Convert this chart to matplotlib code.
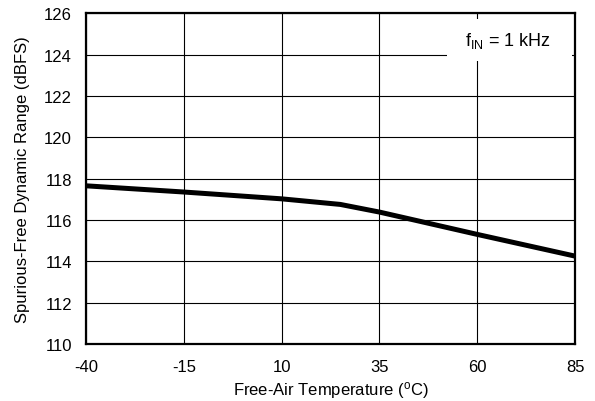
import matplotlib.pyplot as plt
from matplotlib.patches import Rectangle

plt.rcParams['font.family'] = ['Liberation Sans', 'DejaVu Sans']
plt.rcParams['mathtext.fontset'] = 'custom'
plt.rcParams['mathtext.rm'] = 'Liberation Sans'
plt.rcParams['mathtext.it'] = 'Liberation Sans'
plt.rcParams['axes.unicode_minus'] = False

# Data
temperature = [-40, -15, 10, 25, 35, 60, 85]
sfdr = [117.65, 117.35, 117.02, 116.75, 116.38, 115.3, 114.25]

x_ticks = [-40, -15, 10, 35, 60, 85]
y_ticks = [110, 112, 114, 116, 118, 120, 122, 124, 126]

fig = plt.figure(figsize=(5.95, 4.02), dpi=100)
ax = fig.add_axes([0.1445, 0.1418, 0.822, 0.823])

ax.plot(temperature, sfdr, color='black', linewidth=3.6, solid_capstyle='butt', zorder=3)

ax.set_xlim(-40, 85)
ax.set_ylim(110, 126)
ax.set_xticks(x_ticks)
ax.set_yticks(y_ticks)
ax.grid(True, color='black', linewidth=0.8)
ax.tick_params(length=0, labelsize=12)
ax.tick_params(axis='x', pad=11)
ax.tick_params(axis='y', pad=10)
for s in ax.spines.values():
    s.set_linewidth(1.6)

ax.set_xlabel('Free-Air Temperature ($^{\\rm o}$C)', fontsize=12, va='baseline')
ax.xaxis.set_label_coords(0.5, -0.153)
ax.set_ylabel('Spurious-Free Dynamic Range (dBFS)', fontsize=12, va='center')
ax.yaxis.set_label_coords(-0.129, 0.5)

# white label box over the grid
ax.add_patch(Rectangle((0.738, 0.855), 0.256, 0.127, transform=ax.transAxes,
                       facecolor='white', edgecolor='none', zorder=4))
ax.text(0.863, 0.918, 'f$_{\\rm IN}$ = 1 kHz', fontsize=13, ha='center', va='center',
        transform=ax.transAxes, zorder=5)

plt.savefig('out.png', dpi=100)
